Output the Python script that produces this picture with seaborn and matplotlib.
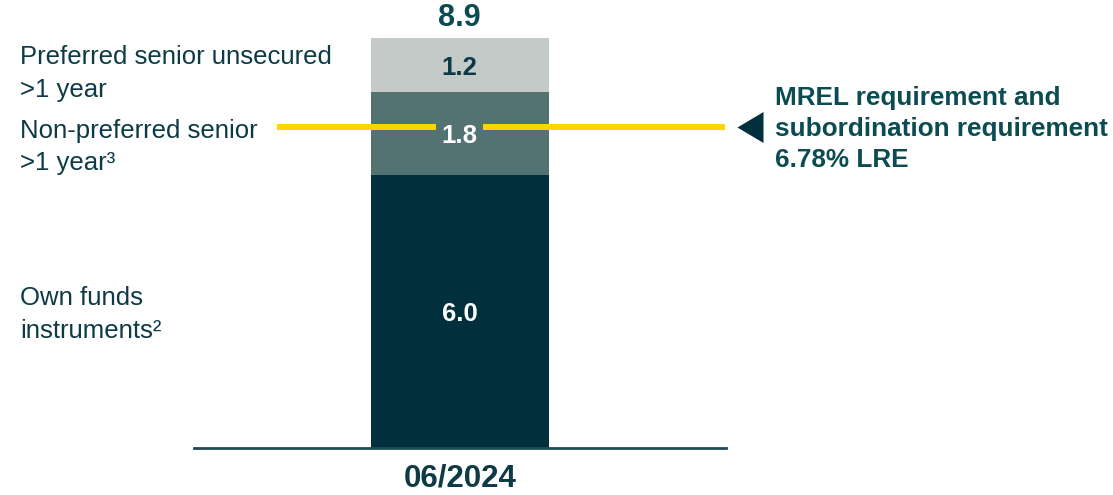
import matplotlib
matplotlib.use("Agg")
import matplotlib.pyplot as plt
import matplotlib.transforms as mtransforms
import numpy as np
import pandas as pd
import seaborn as sns

# data (EUR bn) - segment heights estimated from the bar, labels as printed
PERIOD = "06/2024"
SEGMENTS = ["Own funds\ninstruments\u00b2",
            "Non-preferred senior\n>1 year\u00b3",
            "Preferred senior unsecured\n>1 year"]
SEG_VALUES = [5.93, 1.81, 1.18]
SEG_LABELS = ["6.0", "1.8", "1.2"]
TOTAL_LABEL = "8.9"
MREL_LEVEL = 6.99          # where the requirement line cuts the bar
MREL_TEXT = "MREL requirement and\nsubordination requirement\n6.78% LRE"

COLOURS = ["#022f3c", "#537272", "#c4cac8"]
VALUE_COLOURS = ["white", "white", "#0d3a45"]
TEXT_DARK = "#0d3a45"
TEXT_TEAL = "#0b4b52"
YELLOW = "#ffd500"

sns.set_theme(style="white")
plt.rcParams["font.family"] = ["Liberation Sans", "DejaVu Sans"]

W, H = 1113, 495
fig = plt.figure(figsize=(W / 100, H / 100), dpi=100)
# axes spans the baseline rule (x 193..726 px, baseline at 448 px)
ax = fig.add_axes([193.5 / W, 47 / H, 532.5 / W, 436.6 / H])

cum = np.cumsum(SEG_VALUES)
df = pd.DataFrame({"period": [PERIOD] * len(SEG_VALUES), "top": cum})
# tallest first so the lower stacks are drawn over it
for i in reversed(range(len(SEG_VALUES))):
    sns.barplot(data=df.iloc[[i]], x="period", y="top", color=COLOURS[i],
                width=0.8, saturation=1, linewidth=0, ax=ax)

ax.set_xlim(-1.2, 1.2)
ax.set_ylim(0, 9.5)

bottoms = np.concatenate([[0], cum[:-1]])
mids = bottoms + np.array(SEG_VALUES) / 2
for lab, m, c in zip(SEG_LABELS, mids, VALUE_COLOURS):
    ax.text(0, m, lab, ha="center", va="center_baseline", color=c,
            fontsize=18.5, fontweight="bold")
ax.text(0, cum[-1] + 0.26, TOTAL_LABEL, ha="center", va="baseline",
        color=TEXT_TEAL, fontsize=22, fontweight="bold")

# category labels on the left (x in figure coords, y in data)
blend = mtransforms.blended_transform_factory(fig.transFigure, ax.transData)
label_y = [2.9, 6.55, 8.15]
for lab, y in zip(SEGMENTS, label_y):
    ax.text(20 / W, y, lab, transform=blend, ha="left", va="center",
            color=TEXT_DARK, fontsize=18.5, linespacing=1.45)

# yellow requirement line, broken around the 1.8 label
line_kw = dict(transform=blend, color=YELLOW, lw=4.3, solid_capstyle="butt",
               clip_on=False, zorder=5)
ax.plot([277 / W, 436 / W], [MREL_LEVEL] * 2, **line_kw)
ax.plot([483 / W, 725 / W], [MREL_LEVEL] * 2, **line_kw)
ax.plot([750 / W], [MREL_LEVEL], transform=blend,
        marker=[(-0.84, 0), (0.84, 1), (0.84, -1)], markersize=22.3,
        color="#022f3c", markeredgewidth=0, clip_on=False, zorder=5)
ax.text(775 / W, MREL_LEVEL - 0.05, MREL_TEXT, transform=blend, ha="left",
        va="center", color=TEXT_TEAL, fontsize=18.8, fontweight="bold",
        linespacing=1.35)

sns.despine(ax=ax, left=True)
ax.spines["bottom"].set_color("#1f4a55")
ax.spines["bottom"].set_linewidth(2)
ax.set_yticks([])
ax.set_xlabel("")
ax.set_ylabel("")
ax.set_xticks([0])
ax.set_xticklabels([PERIOD], fontsize=22.5, fontweight="bold", color=TEXT_DARK)
ax.tick_params(axis="x", length=0, pad=11)

fig.savefig("out.png", dpi=100)
